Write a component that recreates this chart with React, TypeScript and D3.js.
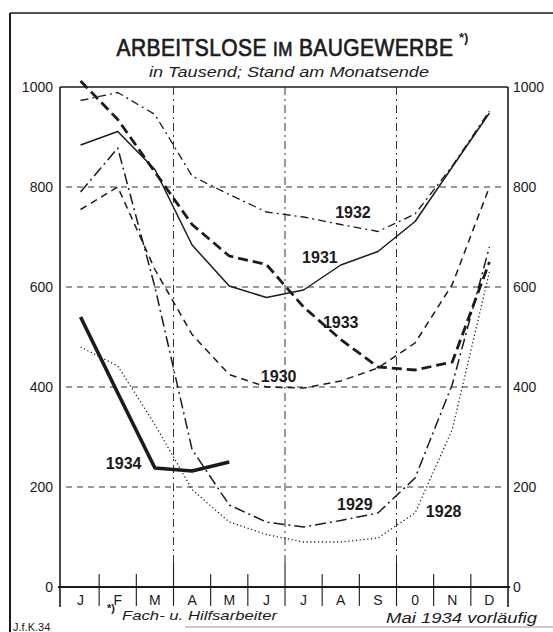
import React from "react";
import * as d3 from "d3";

const months = ["J", "F", "M", "A", "M", "J", "J", "A", "S", "O", "N", "D"];
const yTicks = [0, 200, 400, 600, 800, 1000];
const gridValues = [200, 400, 600, 800];
const quarterBounds = [3, 6, 9];

const s1928 = [480, 442, 325, 195, 130, 105, 90, 90, 98, 148, 315, 630];
const s1929 = [790, 878, 600, 275, 164, 130, 120, 133, 148, 218, 405, 680];
const s1930 = [755, 800, 635, 505, 425, 400, 398, 412, 438, 488, 605, 800];
const s1931 = [884, 911, 835, 684, 602, 579, 594, 644, 671, 731, 840, 948];
const s1932 = [973, 989, 945, 822, 785, 750, 740, 725, 711, 746, 842, 952];
const s1933 = [1012, 935, 830, 725, 662, 645, 560, 495, 440, 434, 450, 650];
const s1934 = [540, 388, 238, 232, 250];

const seriesNames = ["1928", "1929", "1930", "1931", "1932", "1933", "1934"];
const seriesValues = [s1928, s1929, s1930, s1931, s1932, s1933, s1934];
// label anchor: fractional month-boundary index, value
const labelPos = [
  [9.79, 140],
  [7.4, 154],
  [5.35, 410],
  [6.46, 648],
  [7.35, 738],
  [7.02, 518],
  [1.18, 236],
];

const styles = [
  { w: 1.3, dash: "1.2,2.6" },
  { w: 1.5, dash: "11,4,2,4" },
  { w: 1.5, dash: "7,5" },
  { w: 1.5, dash: "" },
  { w: 1.3, dash: "8,4,2,4" },
  { w: 2.8, dash: "10,5" },
  { w: 3.6, dash: "" },
];

const INK = "#1b1b1b";

export default function App() {
  const left = 62;
  const right = 508;
  const top = 87;
  const bottom = 587;
  const xIdx = d3.scaleLinear().domain([0, 12]).range([left, right]);
  const y = d3.scaleLinear().domain([0, 1000]).range([bottom, top]);
  const line = d3
    .line<number>()
    .x((_, i) => xIdx(i + 0.5))
    .y((d) => y(d));

  const font = "'Liberation Sans', Arial, sans-serif";

  return (
    <svg
      width={553}
      height={632}
      style={{ position: "absolute", left: 0, top: 0, background: "#fff" }}
    >
      <rect x={0} y={0} width={553} height={632} fill="#fff" />
      {/* outer frame */}
      <line x1={10} y1={13} x2={10} y2={632} stroke={INK} strokeWidth={2} />
      <line x1={10} y1={13} x2={553} y2={13} stroke={INK} strokeWidth={1.5} />
      <line x1={185} y1={627} x2={553} y2={627} stroke="#999" strokeWidth={1} />

      {/* title */}
      <text
        transform="translate(285,56) scale(1,1.18)"
        textAnchor="middle"
        fontFamily={font}
        fontSize={21}
        letterSpacing={0.4}
        fill={INK}
        stroke={INK}
        strokeWidth={0.6}
      >
        ARBEITSLOSE <tspan fontSize={17}>IM</tspan> BAUGEWERBE
      </text>
      <text x={459} y={42} fontFamily={font} fontSize={13} fontWeight={700} fill={INK}>
        *)
      </text>
      <text
        x={289}
        y={77}
        textAnchor="middle"
        fontFamily={font}
        fontSize={15}
        fontStyle="italic"
        fill={INK}
        textLength={280}
        lengthAdjust="spacingAndGlyphs"
      >
        in Tausend; Stand am Monatsende
      </text>

      {/* horizontal grid */}
      {gridValues.map((v) => (
        <line
          key={"g" + v}
          x1={left + 4}
          x2={right - 2}
          y1={y(v)}
          y2={y(v)}
          stroke="#333"
          strokeWidth={1}
          strokeDasharray="6,5"
        />
      ))}
      {/* vertical grid (quarters) */}
      {quarterBounds.map((q) => (
        <line
          key={"q" + q}
          x1={xIdx(q)}
          x2={xIdx(q)}
          y1={top}
          y2={bottom - 24}
          stroke="#333"
          strokeWidth={1}
          strokeDasharray="8,4,2,4"
        />
      ))}

      {/* frame */}
      <line x1={left - 2} x2={left - 2} y1={top} y2={bottom + 20} stroke={INK} strokeWidth={1.6} />
      <line x1={right} x2={right} y1={top} y2={bottom + 20} stroke={INK} strokeWidth={1.6} />
      <line x1={left - 2} x2={right} y1={top} y2={top} stroke={INK} strokeWidth={1.3} />
      <line x1={left - 4} x2={right + 2} y1={bottom} y2={bottom} stroke={INK} strokeWidth={2} />

      {/* month ticks */}
      {d3.range(1, 12).map((i) => (
        <line
          key={"t" + i}
          x1={xIdx(i)}
          x2={xIdx(i)}
          y1={quarterBounds.includes(i) ? bottom - 24 : bottom - 13}
          y2={bottom + 19}
          stroke={INK}
          strokeWidth={1.1}
        />
      ))}
      {months.map((m, i) => (
        <text
          key={"m" + i}
          x={xIdx(i + 0.5)}
          y={bottom + 18}
          textAnchor="middle"
          fontFamily={font}
          fontSize={14}
          fill={INK}
        >
          {m === "O" && i === 9 ? "0" : m}
        </text>
      ))}

      {/* y labels */}
      {yTicks.map((v) => (
        <g key={"y" + v}>
          <text
            x={53}
            y={y(v) + 5}
            textAnchor="end"
            fontFamily={font}
            fontSize={14}
            fill={INK}
          >
            {v}
          </text>
          <text x={513} y={y(v) + 5} fontFamily={font} fontSize={14} fill={INK}>
            {v}
          </text>
        </g>
      ))}

      {/* series */}
      {seriesValues.map((vals, k) => (
        <path
          key={"s" + k}
          d={line(vals) || ""}
          fill="none"
          stroke={INK}
          strokeWidth={styles[k].w}
          strokeDasharray={styles[k].dash || undefined}
          strokeLinejoin="round"
        />
      ))}
      {seriesNames.map((n, k) => (
        <text
          key={"l" + k}
          x={xIdx(labelPos[k][0])}
          y={y(labelPos[k][1])}
          fontFamily={font}
          fontSize={16}
          fontWeight={700}
          fill={INK}
        >
          {n}
        </text>
      ))}

      {/* footer */}
      <text x={107} y={612} fontFamily={font} fontSize={11} fontWeight={700} fill={INK}>
        *)
      </text>
      <text
        x={122}
        y={620}
        fontFamily={font}
        fontSize={13}
        fontStyle="italic"
        fill={INK}
        textLength={155}
        lengthAdjust="spacingAndGlyphs"
      >
        Fach- u. Hilfsarbeiter
      </text>
      <text
        x={386}
        y={623}
        fontFamily={font}
        fontSize={14}
        fontStyle="italic"
        fill={INK}
        textLength={151}
        lengthAdjust="spacingAndGlyphs"
      >
        Mai 1934 vorläufig
      </text>
      <text x={13} y={631} fontFamily={font} fontSize={11} fill={INK}>
        J.f.K.34
      </text>
    </svg>
  );
}
